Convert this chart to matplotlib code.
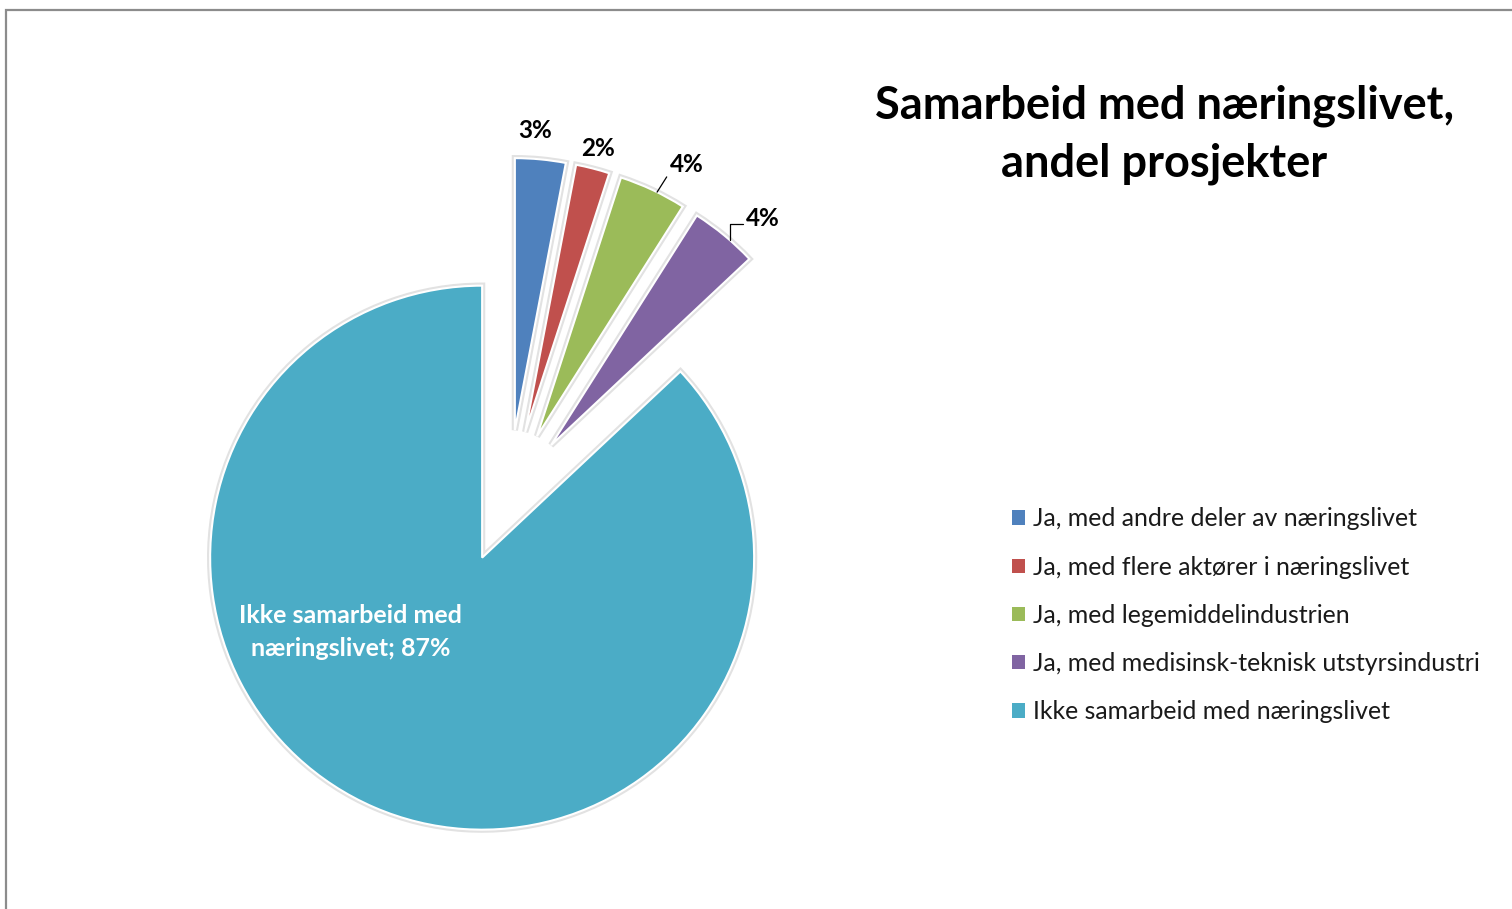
import textwrap

import matplotlib
matplotlib.use('Agg')
import matplotlib.pyplot as plt
import matplotlib.patheffects as pe
from matplotlib.patches import Rectangle
import numpy as np

# data
categories = ['Ja, med andre deler av næringslivet',
              'Ja, med flere aktører i næringslivet',
              'Ja, med legemiddelindustrien',
              'Ja, med medisinsk-teknisk utstyrsindustri',
              'Ikke samarbeid med næringslivet']
shares = [3, 2, 4, 4, 87]
title = 'Samarbeid med næringslivet,\nandel prosjekter'

colors = ['#4F81BD', '#C0504D', '#9BBB59', '#8064A2', '#4BACC6']

# label placement relative to each (exploded) wedge: radius, angle shift
lab_r = [1.105, 1.075, 1.14, 1.14, 0.555]
lab_dang = [1.6, 0.0, -3.6, -3.4, -37.0]
leaders = [None, None, 'straight', 'elbow', None]

plt.rcParams['font.family'] = ['Lato', 'DejaVu Sans']

W, H = 1512, 909
fig = plt.figure(figsize=(W / 100, H / 100), dpi=100)

# outer frame of the chart object (right / bottom edges are cut off)
fig.patches.append(Rectangle((6 / W, -0.1), 1.2, 1.1 - 10 / H,
                             transform=fig.transFigure, fill=False,
                             edgecolor='#8c8c8c', linewidth=1.6))

# pie: centre at px (508.6, 496.5), radius 272 px
R = 272.0
half = 1.4
ax = fig.add_axes([(508.6 - half * R) / W, (H - 496.5 - half * R) / H,
                   2 * half * R / W, 2 * half * R / H])
wedges, _ = ax.pie(shares, explode=[0.245] * len(shares), startangle=90,
                   counterclock=False, colors=colors, radius=1,
                   wedgeprops=dict(edgecolor='white', linewidth=1.5))
for w in wedges:
    w.set_path_effects([pe.Stroke(linewidth=4.5, foreground='#e2e2e2'),
                        pe.Normal()])
ax.set_xlim(-half, half)
ax.set_ylim(-half, half)
ax.axis('off')

for i, w in enumerate(wedges):
    cx, cy = w.center
    mid = 0.5 * (w.theta1 + w.theta2)
    a = np.deg2rad(mid + lab_dang[i])
    tx, ty = cx + lab_r[i] * np.cos(a), cy + lab_r[i] * np.sin(a)
    if i == len(wedges) - 1:
        txt = textwrap.fill('%s; %d%%' % (categories[i], shares[i]), 18)
        ax.text(tx, ty, txt, ha='center', va='center', fontsize=18,
                fontweight='bold', color='white', linespacing=1.5)
        continue
    txt = '%d%%' % shares[i]
    if leaders[i] is None:
        ax.text(tx, ty, txt, ha='center', va='center', fontsize=17.5,
                fontweight='bold', color='black')
    else:
        b = np.deg2rad(mid - 1.0 if leaders[i] == 'straight' else mid - 1.6)
        ax_pt = (cx + 1.0 * np.cos(b), cy + 1.0 * np.sin(b))
        if leaders[i] == 'straight':
            arrow = dict(arrowstyle='-', color='black', lw=0.9,
                         shrinkA=0, shrinkB=0, relpos=(0.0, 0.15))
        else:
            arrow = dict(arrowstyle='-', color='black', lw=0.9,
                         shrinkA=0, shrinkB=0, relpos=(-0.05, 0.25),
                         connectionstyle='angle,angleA=0,angleB=90,rad=0')
        ax.annotate(txt, xy=ax_pt, xytext=(tx, ty), ha='center',
                    va='center', fontsize=17.5, fontweight='bold',
                    color='black', arrowprops=arrow)

fig.text(1164.5 / W, 1 - 134.5 / H, title, ha='center', va='center',
         fontsize=32.5, fontweight='bold', linespacing=1.45)

leg = fig.legend(wedges, categories, loc='upper left',
                 bbox_to_anchor=(990 / W, 1 - 485 / H), frameon=False,
                 fontsize=17.9, handlelength=0.5, handleheight=0.5,
                 handletextpad=0.33, labelspacing=1.015,
                 labelcolor='#1a1a1a')
for h in leg.legend_handles:
    h.set_path_effects([])
    h.set_edgecolor('none')

fig.savefig('out.png', dpi=100)
